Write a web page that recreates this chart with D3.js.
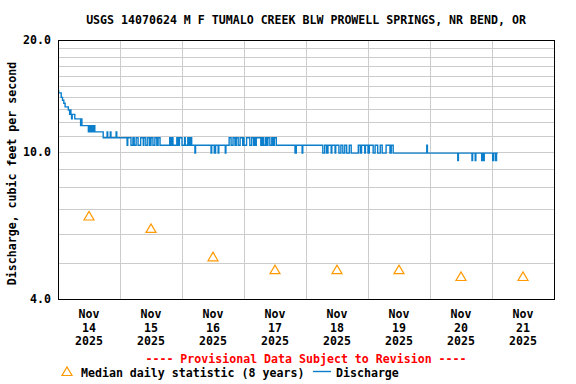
<!DOCTYPE html>
<html><head><meta charset="utf-8">
<script src="https://cdn.jsdelivr.net/npm/d3@7"></script>
<style>
body{margin:0;background:#fff}
svg text{font-family:"DejaVu Sans Mono",monospace;font-weight:bold;font-size:11.6px;fill:#000}
</style></head><body>
<svg id="c" width="576" height="384"></svg>
<script>
// ---------- data ----------
const title = "USGS 14070624 M F TUMALO CREEK BLW PROWELL SPRINGS, NR BEND, OR";
const yAxisTitle = "Discharge, cubic feet per second";
const provisional = "---- Provisional Data Subject to Revision ----";
const legendMedian = "Median daily statistic (8 years)";
const legendDischarge = "Discharge";
const yDomain = [4, 20];
const yTickLabels = [4, 10, 20];
const yGridValues = [5, 6, 7, 8, 9, 10, 11, 12, 13, 14, 15, 16, 17, 18, 19];
const dayMonths = ["Nov", "Nov", "Nov", "Nov", "Nov", "Nov", "Nov", "Nov"];
const dayNumbers = ["14", "15", "16", "17", "18", "19", "20", "21"];
const dayYears = ["2025", "2025", "2025", "2025", "2025", "2025", "2025", "2025"];
const totalHours = 192; // Nov 14 00:00 -> Nov 22 00:00
// median daily statistic, one per day (plotted at noon)
const medianValues = [6.7, 6.2, 5.2, 4.8, 4.8, 4.8, 4.6, 4.6];
// discharge: [hours since Nov 14 00:00, cfs] at each change of the 15-minute record
const discharge = [
[0,14.6],[0.25,14.4],[1.25,14.0],[1.75,13.75],[2.25,13.5],[2.75,13.2],[4,12.95],[4.5,12.6],[4.75,12.95],[5,12.6],[5.25,12.25],[5.5,12.6],[6.5,12.25],[8.75,11.75],[9,12.25],[9.25,11.75],[11.75,11.3],[12,11.75],[12.5,11.3],[13,11.75],[13.5,11.3],[14,11.75],[14.25,11.3],[17.5,10.9],[19,11.3],[19.25,10.9],[20.25,11.3],[20.5,10.9],[22.5,11.3],[22.75,10.9],
[26.75,10.4],[27,10.9],[28.25,10.4],[29,10.9],[29.5,10.4],[30.25,10.9],[31,10.4],[32,10.9],[33,10.4],[33.25,10.9],[34,10.4],[34.75,10.9],[35.5,10.4],[36,10.9],[36.75,10.4],[37.5,10.9],[38.25,10.4],[38.75,10.9],[39.5,10.4],
[43.25,10.9],[43.75,10.4],[44.25,10.9],[44.5,10.4],[46,10.9],[46.5,10.4],[47,10.9],[48,10.4],[49,10.9],[49.25,10.4],[50.25,10.9],[50.75,10.4],[51.25,10.9],[51.75,10.4],
[53,9.9],[53.25,10.4],[59.25,9.9],[59.5,10.4],[60.5,9.9],[61,10.4],[62,9.9],[62.25,10.4],[64.75,9.9],[65,10.4],
[66.25,10.9],[67,10.4],[67.75,10.9],[68.5,10.4],[69,10.9],[69.75,10.4],[70.5,10.9],[71.5,10.4],[71.75,10.9],[72,10.4],[73,10.9],[74.25,10.4],[75,10.9],[75.75,10.4],[76.25,10.9],[76.5,10.4],[76.75,10.9],[78.5,10.4],[79,10.9],[79.5,10.4],[80.25,10.9],[80.75,10.4],[81.25,10.9],[82,10.4],[82.75,10.9],[83.25,10.4],[83.75,10.9],[84.5,10.4],
[91.75,9.9],[92.25,10.4],[94.5,9.9],[94.75,10.4],
[102.5,9.9],[103.25,10.4],[104,9.9],[104.5,10.4],[105.75,9.9],[106,10.4],[107.25,9.9],[107.5,10.4],[108.75,9.9],[109.5,10.4],[110.25,9.9],[111,10.4],[111.75,9.9],[112.75,10.4],[113.5,9.9],[116.25,10.4],[117,9.9],[117.5,10.4],[118.75,9.9],[119,10.4],[120,9.9],[120.5,10.4],[122,9.9],[122.75,10.4],[123.75,9.9],[124.75,10.4],[125.5,9.9],[127,10.4],[128.5,9.9],[129,10.4],[129.75,9.9],
[142.75,10.4],[143,9.9],[154.75,9.45],[155,9.9],[160.25,9.45],[160.5,9.9],[161.5,9.45],[161.75,9.9],[164,9.45],[164.25,9.9],[164.75,9.45],[165,9.9],[168.25,9.45],[168.5,9.9],[169.25,9.45],[169.75,9.9],[170.25,9.9]
];

// ---------- layout ----------
const L = 58, R = 554, T = 40, B = 299;
const svg = d3.select("#c");
const x = d3.scaleLinear().domain([0, totalHours]).range([L, R]);
const y = d3.scaleLog().domain(yDomain).range([B, T]);
const gridColor = "#cccccc";

// horizontal gridlines via axis
svg.append("g").attr("transform", `translate(${L},0)`)
  .call(d3.axisLeft(y).tickValues(yGridValues).tickSize(-(R - L)).tickFormat(""))
  .call(g => g.select(".domain").remove())
  .call(g => g.selectAll("line").attr("stroke", gridColor).attr("shape-rendering", "crispEdges"));

// vertical gridlines (day boundaries) via axis
const dayBounds = d3.range(1, dayNumbers.length).map(i => i * 24);
svg.append("g").attr("transform", `translate(0,${B})`)
  .call(d3.axisBottom(x).tickValues(dayBounds).tickSize(-(B - T)).tickFormat(""))
  .call(g => g.select(".domain").remove())
  .call(g => g.selectAll("line").attr("stroke", gridColor).attr("shape-rendering", "crispEdges"));

// y tick labels
svg.append("g").selectAll("text").data(yTickLabels).join("text")
  .attr("x", 51).attr("y", d => y(d) + 4.3)
  .attr("text-anchor", "end").text(d => d.toFixed(1));

// x labels
const noon = dayNumbers.map((d, i) => i * 24 + 12);
const xl = svg.append("g").selectAll("text").data(noon).join("text")
  .attr("text-anchor", "middle");
xl.append("tspan").attr("x", d => x(d)).attr("y", 318).text((d, i) => dayMonths[i]);
xl.append("tspan").attr("x", d => x(d)).attr("y", 331.5).text((d, i) => dayNumbers[i]);
xl.append("tspan").attr("x", d => x(d)).attr("y", 344.5).text((d, i) => dayYears[i]);

// discharge line
const line = d3.line().x(d => x(d[0])).y(d => y(d[1])).curve(d3.curveStepAfter);
svg.append("path").datum(discharge).attr("d", line)
  .attr("fill", "none").attr("stroke", "#0b7fcc").attr("stroke-width", 1.4);

// median triangles
const tri = (cx, cy) => `M${cx - 5},${cy + 4}L${cx + 5},${cy + 4}L${cx},${cy - 4.5}Z`;
svg.append("g").selectAll("path").data(medianValues).join("path")
  .attr("d", (d, i) => tri(x(noon[i]), y(d)))
  .attr("fill", "none").attr("stroke", "#ff9900").attr("stroke-width", 1.2);

// frame
svg.append("rect").attr("x", L + 0.5).attr("y", T + 0.5).attr("width", R - L).attr("height", B - T)
  .attr("fill", "none").attr("stroke", "#000").attr("stroke-width", 1).attr("shape-rendering", "crispEdges");

// title
svg.append("text").attr("x", (L + R) / 2).attr("y", 24).attr("text-anchor", "middle").text(title);

// y axis title
svg.append("text").attr("transform", `translate(16,${(T + B) / 2 + 4}) rotate(-90)`)
  .attr("text-anchor", "middle").text(yAxisTitle);

// provisional note
svg.append("text").attr("x", (L + R) / 2).attr("y", 363).attr("text-anchor", "middle")
  .style("fill", "#ff0000").text(provisional);

// legend
svg.append("path").attr("d", tri(67, 371.5)).attr("fill", "none").attr("stroke", "#ff9900").attr("stroke-width", 1.2);
svg.append("text").attr("x", 81).attr("y", 377).text(legendMedian);
svg.append("line").attr("x1", 313).attr("x2", 331).attr("y1", 371.5).attr("y2", 371.5)
  .attr("stroke", "#0b7fcc").attr("stroke-width", 1.4);
svg.append("text").attr("x", 336).attr("y", 377).text(legendDischarge);
</script>
</body></html>
